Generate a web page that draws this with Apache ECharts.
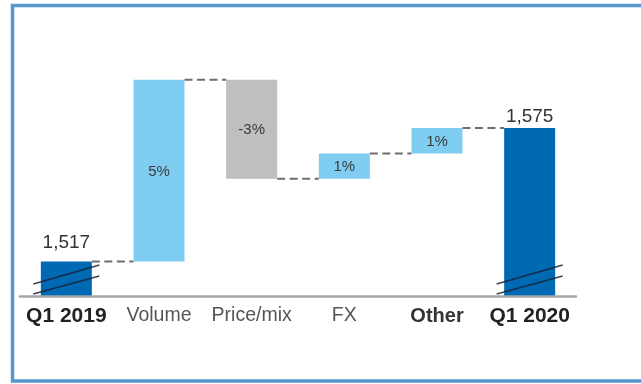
<!DOCTYPE html>
<html>
<head>
<meta charset="utf-8">
<title>Q1 2019 to Q1 2020 bridge</title>
<script src="https://cdn.jsdelivr.net/npm/echarts@6/dist/echarts.min.js"></script>
<style>
  html, body { margin: 0; padding: 0; background: #ffffff; }
  #chart { width: 641px; height: 384px; }
</style>
</head>
<body>
<div id="chart"></div>
<script>
// Bridge categories, left to right
const categories = ['Q1 2019', 'Volume', 'Price/mix', 'FX', 'Other', 'Q1 2020'];
// Opening total
const startValue = 1517;
// Changes for Volume, Price/mix, FX, Other
const changeValues = [79, -43, 11, 11];
// The value axis is broken: bars start from this value
const axisStart = 1502;
const axisEnd = 1622;

const FONT = '"Liberation Sans", Arial, sans-serif';
const BAR_W = 51;
const COLORS = { total: '#0069b4', up: '#80cdf2', down: '#bfbfbf' };
// gap between a total bar's top and its value label
const TOTAL_LABEL_GAP = { 0: 9, 5: 2 };

const fmt = v => v.toLocaleString('en-US');
const pct = d => Math.round(d / startValue * 100) + '%';

// Build bar rows (low/high per category) and connector levels
const rows = [];
rows.push({ i: 0, lo: axisStart, hi: startValue, kind: 'total', label: fmt(startValue) });
let running = startValue;
const levels = [startValue];
changeValues.forEach((d, k) => {
  const next = running + d;
  rows.push({ i: k + 1, lo: Math.min(running, next), hi: Math.max(running, next),
              kind: d >= 0 ? 'up' : 'down', label: pct(d) });
  running = next;
  levels.push(running);
});
rows.push({ i: categories.length - 1, lo: axisStart, hi: running, kind: 'total', label: fmt(running) });

// Category label styles
const catStyles = {
  'Q1 2019': { fontWeight: 'bold', fontSize: 21, color: '#222' },
  'Q1 2020': { fontWeight: 'bold', fontSize: 21, color: '#222' },
  'Other':   { fontWeight: 'bold', fontSize: 20, color: '#333' }
};
const axisData = categories.map(c => ({
  value: c,
  textStyle: catStyles[c] || { fontWeight: 'normal', fontSize: 19.5, color: '#555' }
}));

function renderBar(params, api) {
  const r = rows[params.dataIndex];
  const top = api.coord([r.i, r.hi]);
  const bot = api.coord([r.i, r.lo]);
  const x0 = top[0] - BAR_W / 2;
  const children = [{
    type: 'rect',
    shape: { x: x0, y: top[1], width: BAR_W, height: bot[1] - top[1] },
    style: { fill: COLORS[r.kind] }
  }];
  if (r.kind === 'total') {
    children.push({
      type: 'text',
      style: { text: r.label, x: top[0], y: top[1] - TOTAL_LABEL_GAP[r.i],
               align: 'center', verticalAlign: 'bottom',
               fill: '#333', font: '19px ' + FONT }
    });
    // axis-break marks near the base
    const y0 = bot[1];
    [[12, 31], [2, 20]].forEach(([a, b]) => {
      children.push({
        type: 'line',
        shape: { x1: x0 - 7.5, y1: y0 - a, x2: x0 + BAR_W + 7.5, y2: y0 - b },
        style: { stroke: 'rgba(25,35,55,0.85)', lineWidth: 1.5 }
      });
    });
  } else {
    children.push({
      type: 'text',
      style: { text: r.label, x: top[0], y: (top[1] + bot[1]) / 2 + 1,
               align: 'center', verticalAlign: 'middle',
               fill: '#3a3a3a', font: '15px ' + FONT }
    });
  }
  return { type: 'group', children };
}

function renderConnector(params, api) {
  const i = api.value(0);
  const v = api.value(1);
  const p1 = api.coord([i, v]);
  const p2 = api.coord([i + 1, v]);
  return {
    type: 'line',
    shape: { x1: p1[0] + BAR_W / 2, y1: p1[1], x2: p2[0] - BAR_W / 2, y2: p2[1] },
    style: { stroke: '#6e6e6e', lineWidth: 2, lineDash: [8, 4.5] }
  };
}

const chart = echarts.init(document.getElementById('chart'), null, { renderer: 'canvas' });
chart.setOption({
  animation: false,
  backgroundColor: '#ffffff',
  textStyle: { fontFamily: FONT },
  graphic: [{
    type: 'rect',
    silent: true,
    shape: { x: 12.5, y: 5.5, width: 700, height: 375.5 },
    style: { fill: 'none', stroke: '#5597cd', lineWidth: 3.5 }
  }],
  grid: { left: 20, right: 65, top: 20, bottom: 88 },
  xAxis: {
    type: 'category',
    data: axisData,
    z: 5,
    axisLine: { lineStyle: { color: '#a6a6a6', width: 2.5 } },
    axisTick: { show: false },
    axisLabel: { margin: 10, fontFamily: FONT, interval: 0 },
    splitLine: { show: false }
  },
  yAxis: {
    type: 'value',
    min: axisStart,
    max: axisEnd,
    show: false,
    splitLine: { show: false }
  },
  series: [
    {
      type: 'custom',
      name: 'bars',
      renderItem: renderBar,
      encode: { x: 0, y: [1, 2] },
      data: rows.map(r => [r.i, r.lo, r.hi])
    },
    {
      type: 'custom',
      name: 'connectors',
      renderItem: renderConnector,
      encode: { x: 0, y: 1 },
      data: levels.map((v, i) => [i, v])
    }
  ]
});
</script>
</body>
</html>
